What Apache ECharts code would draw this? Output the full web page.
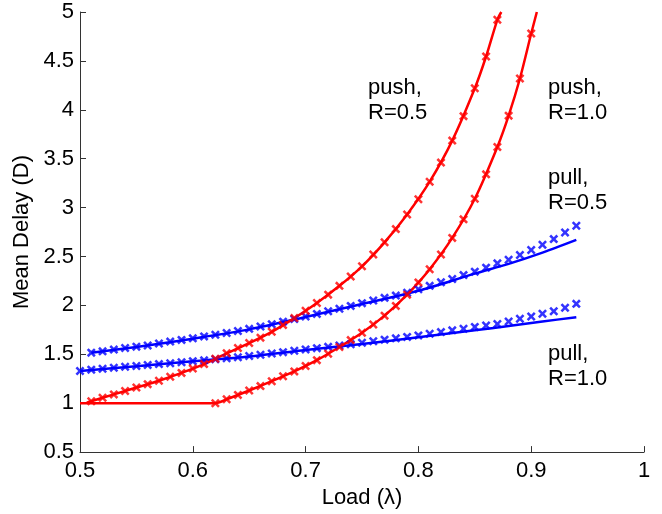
<!DOCTYPE html>
<html>
<head>
<meta charset="utf-8">
<script src="https://cdn.jsdelivr.net/npm/echarts@6/dist/echarts.min.js"></script>
<style>
html,body{margin:0;padding:0;background:#fff;}
#chart{width:662px;height:514px;}
</style>
</head>
<body>
<div id="chart"></div>
<script>
// ---- Data ----
const xTicks = [0.5, 0.6, 0.7, 0.8, 0.9, 1];
const yTicks = [0.5, 1, 1.5, 2, 2.5, 3, 3.5, 4, 4.5, 5];

// push, R=0.5 (simulation markers)
const pushR05SimX = [0.51,0.52,0.53,0.54,0.55,0.56,0.57,0.58,0.59,0.60,0.61,0.62,0.63,0.64,0.65,0.66,0.67,0.68,0.69,0.70,0.71,0.72,0.73,0.74,0.75,0.76,0.77,0.78,0.79,0.80,0.81,0.82,0.83,0.84,0.85,0.86,0.87];
const pushR05SimY = [1.02,1.055,1.09,1.125,1.16,1.195,1.23,1.27,1.31,1.355,1.40,1.455,1.51,1.565,1.615,1.67,1.73,1.80,1.87,1.945,2.025,2.11,2.20,2.295,2.40,2.52,2.645,2.78,2.93,3.085,3.265,3.46,3.685,3.935,4.22,4.545,4.92];
// push, R=0.5 (analysis line)
const pushR05LineX = [0.506,0.51,0.53,0.55,0.57,0.59,0.61,0.63,0.65,0.67,0.69,0.71,0.73,0.75,0.77,0.79,0.81,0.83,0.85,0.86,0.87,0.8735];
const pushR05LineY = [1.005,1.02,1.09,1.16,1.23,1.31,1.40,1.51,1.615,1.73,1.87,2.025,2.20,2.40,2.645,2.93,3.265,3.685,4.22,4.545,4.92,5.0];

// push, R=1.0 (simulation markers)
const pushR10SimX = [0.62,0.63,0.64,0.65,0.66,0.67,0.68,0.69,0.70,0.71,0.72,0.73,0.74,0.75,0.76,0.77,0.78,0.79,0.80,0.81,0.82,0.83,0.84,0.85,0.86,0.87,0.88,0.89,0.90];
const pushR10SimY = [1.0,1.04,1.085,1.13,1.175,1.225,1.275,1.325,1.38,1.44,1.505,1.575,1.645,1.72,1.805,1.895,1.995,2.11,2.235,2.37,2.52,2.69,2.88,3.09,3.34,3.62,3.94,4.32,4.78];
// push, R=1.0 (analysis line)
const pushR10LineX = [0.50,0.62,0.63,0.65,0.67,0.69,0.71,0.73,0.75,0.77,0.79,0.81,0.83,0.85,0.87,0.88,0.89,0.90,0.905];
const pushR10LineY = [1.0,1.0,1.04,1.13,1.225,1.325,1.44,1.575,1.72,1.895,2.11,2.37,2.69,3.09,3.62,3.94,4.32,4.78,5.0];

// pull, R=0.5 (simulation markers)
const pullR05SimX = [0.51,0.52,0.53,0.54,0.55,0.56,0.57,0.58,0.59,0.60,0.61,0.62,0.63,0.64,0.65,0.66,0.67,0.68,0.69,0.70,0.71,0.72,0.73,0.74,0.75,0.76,0.77,0.78,0.79,0.80,0.81,0.82,0.83,0.84,0.85,0.86,0.87,0.88,0.89,0.90,0.91,0.92,0.93,0.94];
const pullR05SimY = [1.517,1.53,1.548,1.565,1.578,1.59,1.61,1.63,1.647,1.663,1.683,1.70,1.718,1.738,1.76,1.785,1.808,1.834,1.86,1.887,1.913,1.94,1.965,1.995,2.023,2.05,2.077,2.10,2.13,2.165,2.20,2.237,2.27,2.31,2.345,2.386,2.43,2.467,2.515,2.566,2.62,2.678,2.746,2.814];
// pull, R=0.5 (analysis line)
const pullR05LineX = [0.51,0.55,0.60,0.65,0.70,0.75,0.80,0.85,0.88,0.91,0.94];
const pullR05LineY = [1.515,1.575,1.66,1.755,1.882,2.015,2.15,2.325,2.425,2.54,2.67];

// pull, R=1.0 (simulation markers)
const pullR10SimX = [0.50,0.51,0.52,0.53,0.54,0.55,0.56,0.57,0.58,0.59,0.60,0.61,0.62,0.63,0.64,0.65,0.66,0.67,0.68,0.69,0.70,0.71,0.72,0.73,0.74,0.75,0.76,0.77,0.78,0.79,0.80,0.81,0.82,0.83,0.84,0.85,0.86,0.87,0.88,0.89,0.90,0.91,0.92,0.93,0.94];
const pullR10SimY = [1.33,1.343,1.353,1.362,1.372,1.38,1.39,1.40,1.408,1.418,1.43,1.438,1.45,1.46,1.47,1.482,1.495,1.508,1.522,1.536,1.55,1.563,1.576,1.59,1.603,1.618,1.634,1.65,1.663,1.678,1.693,1.71,1.727,1.745,1.762,1.78,1.795,1.81,1.836,1.864,1.887,1.915,1.94,1.976,2.016];
// pull, R=1.0 (analysis line)
const pullR10LineX = [0.50,0.55,0.60,0.65,0.70,0.75,0.80,0.85,0.88,0.91,0.94];
const pullR10LineY = [1.33,1.378,1.428,1.478,1.545,1.605,1.675,1.745,1.79,1.835,1.88];

const curveLabels = [
  {text: 'push,\nR=0.5', x: 368, y: 75},
  {text: 'push,\nR=1.0', x: 548, y: 75},
  {text: 'pull,\nR=0.5', x: 548, y: 165},
  {text: 'pull,\nR=1.0', x: 548, y: 341}
];

// ---- Build ----
const pair = (xs, ys) => xs.map((x, i) => [x, ys[i]]);
const RED = '#ff0000', BLUE = '#0000ff';
const XSYM = 'path://M0,2L2,0L5,3L8,0L10,2L7,5L10,8L8,10L5,7L2,10L0,8L3,5Z';
const FONT = 'Liberation Sans, Arial, Helvetica, sans-serif';

function lineSeries(xs, ys, color) {
  return {type: 'line', data: pair(xs, ys), showSymbol: false, smooth: 0.3,
          lineStyle: {color: color, width: 2.5}, silent: true, z: 2};
}
function simSeries(xs, ys, color) {
  return {type: 'scatter', data: pair(xs, ys), symbol: XSYM, symbolSize: 9,
          itemStyle: {color: color}, silent: true, z: 3};
}

const chart = echarts.init(document.getElementById('chart'), null, {renderer: 'canvas'});
chart.setOption({
  animation: false,
  backgroundColor: '#ffffff',
  grid: {left: 80, right: 18, top: 12, bottom: 60, containLabel: false},
  xAxis: {
    type: 'value', min: xTicks[0], max: xTicks[xTicks.length - 1], interval: 0.1,
    name: 'Load (λ)', nameLocation: 'middle', nameGap: 33,
    nameTextStyle: {fontFamily: FONT, fontSize: 22, color: '#000'},
    axisLine: {show: true, onZero: false, lineStyle: {color: '#333', width: 1}},
    axisTick: {show: true, inside: true, length: 6, lineStyle: {color: '#333'}},
    axisLabel: {fontFamily: FONT, fontSize: 22, color: '#000', margin: 8,
                formatter: v => String(+v.toFixed(1))},
    splitLine: {show: false}
  },
  yAxis: {
    type: 'value', min: yTicks[0], max: yTicks[yTicks.length - 1], interval: 0.5,
    name: 'Mean Delay (D)', nameLocation: 'middle', nameGap: 45,
    nameTextStyle: {fontFamily: FONT, fontSize: 22, color: '#000'},
    axisLine: {show: true, onZero: false, lineStyle: {color: '#333', width: 1}},
    axisTick: {show: true, inside: true, length: 6, lineStyle: {color: '#333'}},
    axisLabel: {fontFamily: FONT, fontSize: 22, color: '#000', margin: 6,
                formatter: v => String(+v.toFixed(1))},
    splitLine: {show: false}
  },
  series: [
    lineSeries(pullR05LineX, pullR05LineY, BLUE),
    lineSeries(pullR10LineX, pullR10LineY, BLUE),
    lineSeries(pushR05LineX, pushR05LineY, RED),
    lineSeries(pushR10LineX, pushR10LineY, RED),
    simSeries(pullR05SimX, pullR05SimY, BLUE),
    simSeries(pullR10SimX, pullR10SimY, BLUE),
    simSeries(pushR05SimX, pushR05SimY, RED),
    simSeries(pushR10SimX, pushR10SimY, RED)
  ],
  graphic: curveLabels.map(l => ({
    type: 'text', left: l.x, top: l.y, silent: true,
    style: {text: l.text, fontFamily: FONT, fontSize: 22, lineHeight: 25, fill: '#000'}
  }))
});
</script>
</body>
</html>
